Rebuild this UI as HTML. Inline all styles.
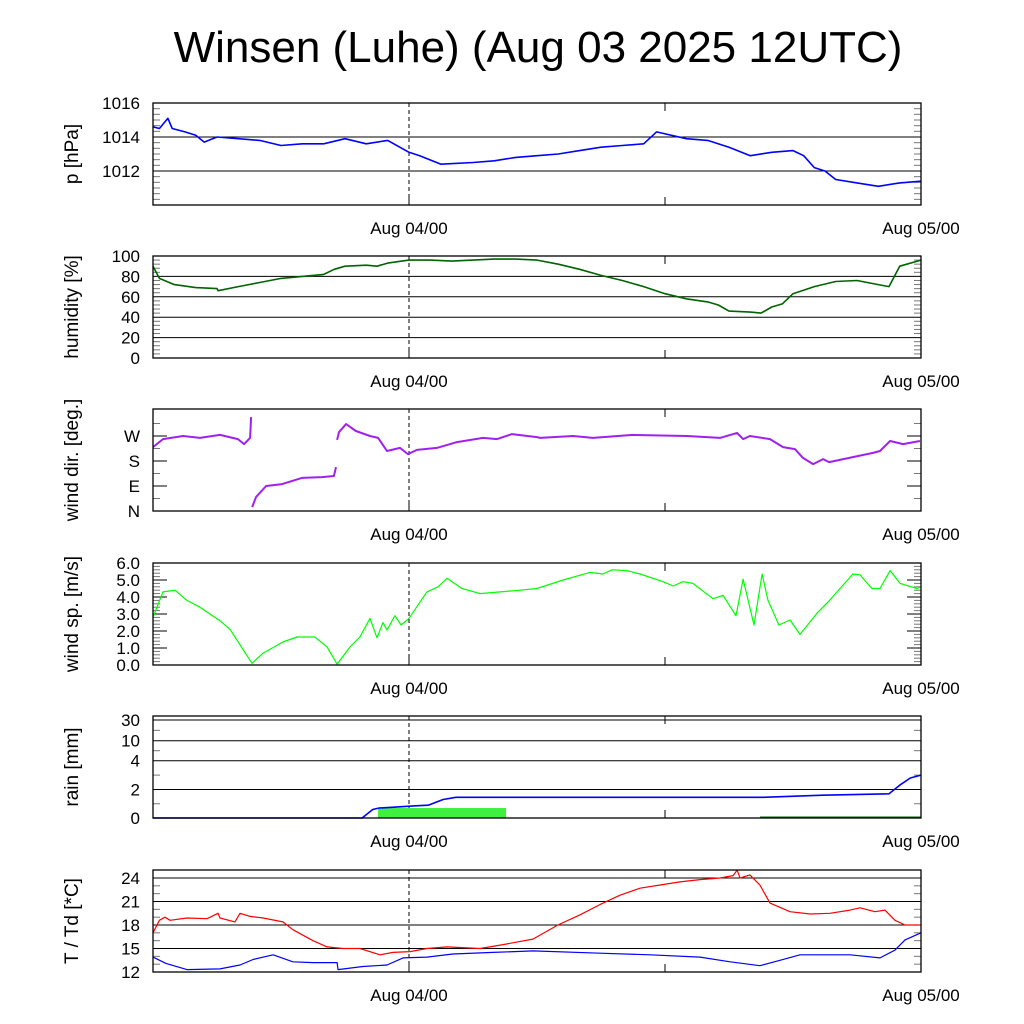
<!DOCTYPE html>
<html><head><meta charset="utf-8"><style>
body{margin:0;background:#fff}
svg{display:block;font-family:"Liberation Sans",sans-serif}
</style></head><body>
<svg id="c" width="1024" height="1024" viewBox="0 0 1024 1024">
<text x="538" y="62" font-size="44" text-anchor="middle">Winsen (Luhe) (Aug 03 2025 12UTC)</text>
</svg>
<script>
// ---- data (hours since Aug 03 12UTC) ----
const pT=[0,0.3,0.7,0.9,1.5,2,2.4,3,4,5,6,7,8,9,10,11,12,12.5,13.5,15,16,17,18,19,20,21,22,23,23.6,25,26,27,28,29,30,30.5,31,31.5,32,33,34,35,36];
const pV=[1014.6,1014.5,1015.1,1014.5,1014.3,1014.1,1013.7,1014.0,1013.9,1013.8,1013.5,1013.6,1013.6,1013.9,1013.6,1013.8,1013.1,1012.9,1012.4,1012.5,1012.6,1012.8,1012.9,1013.0,1013.2,1013.4,1013.5,1013.6,1014.3,1013.9,1013.8,1013.4,1012.9,1013.1,1013.2,1012.9,1012.2,1012.0,1011.5,1011.3,1011.1,1011.3,1011.4];
const hT=[0,0.3,1,2,3,3.05,4,5,6,7,8,8.5,9,10,10.5,11,12,13,14,15,16,17,18,19,20,21,22,23,24,25,26,26.5,27,28,28.5,29,29.5,30,31,32,33,34,34.5,35,36];
const hV=[90,78,72,69,68,66,70,74,78,80,82,87,90,91,90,93,96,96,95,96,97,97,96,92,87,81,76,70,63,58,55,52,46,45,44,50,53,63,70,75,76,72,70,90,96];
const dT=[0,0.47,1.41,2.2,3.14,3.98,4.27,4.55,4.6,4.65,4.83,5.3,6.05,6.98,7.92,8.48,8.58,8.63,8.72,9.05,9.51,10.17,10.55,10.97,11.58,11.95,12.37,13.31,14.25,15.47,16.13,16.83,18,18.14,19.69,20.62,22.5,25.03,26.58,27.38,27.66,27.98,28.92,29.53,30.09,30.47,30.94,31.41,31.69,33.75,34.08,34.55,35.16,35.95];
const dV=[230,259,270,263,274,259,241,263,338,14,50,90,97,119,122,126,158,256,284,313,288,270,263,216,227,205,220,227,248,263,259,277,266,263,270,263,274,270,263,281,259,270,259,230,223,191,169,187,176,209,216,252,241,252];
const wT=[0,0.47,1.03,1.59,2.2,3.14,3.61,4.64,5.16,6.09,6.75,7.59,8.16,8.63,9.23,9.7,10.17,10.5,10.78,10.97,11.34,11.63,12,12.84,13.36,13.78,14.48,15.33,16.27,17.2,18,19.22,20.48,21.09,21.52,22.22,22.83,23.91,24.38,24.84,25.31,26.25,26.72,27.33,27.66,28.17,28.55,28.83,29.34,29.86,30.33,31.13,31.64,32.81,33.14,33.7,34.08,34.55,35.02,35.81,36];
const wV=[2.8,4.3,4.4,3.8,3.4,2.6,2.1,0.1,0.7,1.35,1.65,1.65,1.05,0.05,1.05,1.65,2.75,1.6,2.5,2.05,2.9,2.35,2.75,4.3,4.6,5.1,4.5,4.2,4.3,4.4,4.5,5.0,5.45,5.35,5.6,5.55,5.35,4.9,4.65,4.9,4.8,3.9,4.1,2.9,5.05,2.35,5.35,3.8,2.35,2.65,1.8,3.05,3.7,5.35,5.3,4.5,4.5,5.55,4.8,4.5,4.6];
const rT=[0,9.8,10.3,10.6,11.2,12.2,12.9,13.6,14.2,28.6,31.4,34.5,35.0,35.5,36];
const rV=[0,0,0.6,0.7,0.75,0.85,0.9,1.3,1.45,1.45,1.6,1.7,2.3,2.8,3.0];
const barStart=[10.55];const barEnd=[16.55];const barV=[0.7];
const tT=[0,0.3,0.56,0.8,1.59,2.53,3.05,3.14,3.84,4.08,4.55,5.16,6.09,6.56,7.5,8.16,8.91,9.7,10.64,11.25,12.05,12.84,13.78,15.33,16.41,17.81,18.98,20.02,20.95,21.89,22.83,23.77,24.7,25.64,26.58,27.19,27.38,27.52,27.98,28.45,28.92,29.86,30.8,31.73,32.67,33.14,33.84,34.31,34.78,35.25,36];
const tV=[17.0,18.6,19.0,18.6,18.9,18.8,19.5,18.9,18.4,19.5,19.1,18.9,18.4,17.4,16.0,15.2,15.0,15.0,14.2,14.5,14.6,15.0,15.2,15.0,15.5,16.2,18.0,19.3,20.6,21.8,22.7,23.1,23.5,23.8,24.0,24.3,25.0,24.0,24.4,23.1,20.8,19.7,19.4,19.5,19.9,20.2,19.7,19.9,18.6,18.0,18.0];
const tdT=[0,0.61,1.59,3.14,4.08,4.69,5.63,6.56,7.5,8.63,8.67,9.84,10.97,11.72,12.84,14.06,15.94,17.81,20.95,23.3,25.64,27.05,28.45,29.39,30.33,32.67,34.08,34.78,35.25,36];
const tdV=[13.9,13.1,12.3,12.4,12.9,13.6,14.2,13.3,13.2,13.2,12.3,12.7,12.9,13.8,13.9,14.3,14.5,14.7,14.4,14.2,13.9,13.3,12.8,13.5,14.2,14.2,13.8,14.8,16.1,17.0];
const pTicks=[1016,1014,1012];const hTicks=[100,80,60,40,20,0];const dTicks=["W","S","E","N"];
const wTicks=["6.0","5.0","4.0","3.0","2.0","1.0","0.0"];const rTicks=[30,10,4,2,0];const tTicks=[24,21,18,15,12];
const xLabels=["Aug 04/00","Aug 05/00"];
// ---- drawing ----
const svg=document.getElementById('c');const NS='http://www.w3.org/2000/svg';
const X0=153,X1=921;
function X(h){return X0+(X1-X0)*h/36;}
function mk(tag,at,parent){const e=document.createElementNS(NS,tag);for(const k in at)e.setAttribute(k,at[k]);(parent||svg).appendChild(e);return e;}
function lin(a,b,ya,yb){return v=>ya+(v-a)*(yb-ya)/(b-a);}
const panels=[
 {name:'pressure',top:103,bot:205,title:'p [hPa]',y:lin(1016,1010,103,205),ticks:pTicks,labs:pTicks,minor:6,grid:true},
 {name:'humidity',top:256,bot:358,title:'humidity [%]',y:lin(100,0,256,358),ticks:hTicks,labs:hTicks,minor:5,grid:true},
 {name:'wind-dir',top:409,bot:511,title:'wind dir. [deg.]',y:lin(0,90,511,486),ticks:[270,180,90,0],labs:dTicks,minor:0,grid:false},
 {name:'wind-speed',top:563,bot:665,title:'wind sp. [m/s]',y:lin(0,6,665,563),ticks:[6,5,4,3,2,1,0],labs:wTicks,minor:5,grid:false},
 {name:'rain',top:716,bot:818,title:'rain [mm]',y:v=>{const t=[0,2,4,10,30],p=[818,789.5,760.7,740.7,720];for(let i=0;i<4;i++)if(v<=t[i+1])return p[i]+(v-t[i])*(p[i+1]-p[i])/(t[i+1]-t[i]);return 720;},ticks:rTicks,labs:rTicks,minor:0,grid:true},
 {name:'temperature',top:870,bot:972,title:'T / Td [*C]',y:lin(12,24,972,878),ticks:tTicks,labs:tTicks,minor:3,grid:true}
];
function line(g,T,V,y,color,w,nm,breakJump){
 let segs=[[]];
 for(let i=0;i<T.length;i++){
  if(breakJump&&i>0&&Math.abs(V[i]-V[i-1])>breakJump)segs.push([]);
  segs[segs.length-1].push(X(T[i]).toFixed(1)+','+y(V[i]).toFixed(1));
 }
 segs.forEach(s=>{const p=mk('polyline',{points:s.join(' '),fill:'none',stroke:color,'stroke-width':w,'stroke-linejoin':'round'},g);
 
 });
}
panels.forEach((P,pi)=>{
 const g=mk('g',{});
 
 
 P.ticks.forEach((t,i)=>{const yy=P.y(t);
  if(Math.abs(yy-P.bot)>1&&Math.abs(yy-P.top)>1){
   if(P.grid){const gl=mk('line',{x1:X0,x2:X1,y1:yy,y2:yy,stroke:'#000','stroke-width':1},g);
   
   }
   else{mk('line',{x1:X0,x2:X0+14,y1:yy,y2:yy,stroke:'#000'},g);mk('line',{x1:X1-14,x2:X1,y1:yy,y2:yy,stroke:'#000'},g);}
  }
  const tx=mk('text',{x:140,y:yy+6,'font-size':17,'text-anchor':'end'},g);tx.textContent=P.labs[i];
  
  
 });
 if(P.minor){const n=P.ticks.length-1;for(let i=0;i<n;i++){const a=P.y(P.ticks[i]),b=P.y(P.ticks[i+1]);for(let k=1;k<P.minor;k++){const yy=a+(b-a)*k/P.minor;mk('line',{x1:X0,x2:X0+7,y1:yy,y2:yy,stroke:'#777'},g);mk('line',{x1:X1-7,x2:X1,y1:yy,y2:yy,stroke:'#777'},g);}}
  const a=P.y(P.ticks[0]);if(a-P.top>3){const st=(P.y(P.ticks[1])-a)/P.minor;for(let yy=a-st;yy>P.top+1;yy-=st){mk('line',{x1:X0,x2:X0+7,y1:yy,y2:yy,stroke:'#777'},g);}}
  const bl=P.y(P.ticks[n]);if(P.bot-bl>3){const st=(bl-P.y(P.ticks[n-1]))/P.minor;for(let yy=bl+st;yy<P.bot-1;yy+=st){mk('line',{x1:X0,x2:X0+7,y1:yy,y2:yy,stroke:'#777'},g);mk('line',{x1:X1-7,x2:X1,y1:yy,y2:yy,stroke:'#777'},g);}}
 } else {P.ticks.forEach((t,i)=>{if(i<P.ticks.length-1){const yy=(P.y(t)+P.y(P.ticks[i+1]))/2;mk('line',{x1:X0,x2:X0+7,y1:yy,y2:yy,stroke:'#777'},g);mk('line',{x1:X1-7,x2:X1,y1:yy,y2:yy,stroke:'#777'},g);}});
  if(P.name==='wind-dir'){const yy=P.y(315);mk('line',{x1:X0,x2:X0+7,y1:yy,y2:yy,stroke:'#777'},g);mk('line',{x1:X1-7,x2:X1,y1:yy,y2:yy,stroke:'#777'},g);}}
 mk('line',{x1:409,x2:409,y1:P.top,y2:P.bot,stroke:'#000','stroke-dasharray':'4,3'},g);
 mk('line',{x1:409,x2:409,y1:P.bot-10,y2:P.bot,stroke:'#000'},g);
 mk('line',{x1:665,x2:665,y1:P.bot-8,y2:P.bot,stroke:'#000'},g);
 mk('line',{x1:665,x2:665,y1:P.top,y2:P.top+8,stroke:'#000'},g);
 const cy=(P.top+P.bot)/2;const tt=mk('text',{x:0,y:0,'font-size':19,'text-anchor':'middle',transform:`translate(78,${cy}) rotate(-90)`},g);tt.textContent=P.title;
 
 
 [409,921].forEach((xx,i)=>{const t=mk('text',{x:xx,y:P.bot+29,'font-size':17,'text-anchor':'middle'},g);t.textContent=xLabels[i];
  
  });
 if(P.name==='pressure')line(g,pT,pV,P.y,'#0000ff',1.6,'pressure-line');
 if(P.name==='humidity')line(g,hT,hV,P.y,'#006400',1.6,'humidity-line');
 if(P.name==='wind-dir')line(g,dT,dV,P.y,'#a020f0',2,'wind-direction-line',90);
 if(P.name==='wind-speed')line(g,wT,wV,P.y,'#00ff00',1.2,'wind-speed-line');
 if(P.name==='rain'){
  barV.forEach((v,i)=>{const r=mk('rect',{x:X(barStart[i]),y:P.y(v),width:X(barEnd[i])-X(barStart[i]),height:P.bot-P.y(v),fill:'#40f040'},g);
   
   });
  mk('line',{x1:760,x2:X1,y1:P.bot-0.5,y2:P.bot-0.5,stroke:'#006400','stroke-width':2},g);
  line(g,rT,rV,P.y,'#0000ff',1.6,'cumulative-rain-line');
 }
 if(P.name==='temperature'){line(g,tT,tV,P.y,'#ff0000',1.2,'temperature-line');line(g,tdT,tdV,P.y,'#0000ff',1.2,'dewpoint-line');}
 const f=mk('rect',{x:X0,y:P.top,width:X1-X0,height:P.bot-P.top,fill:'none',stroke:'#000','stroke-width':1.3},g);
 
 
});
</script>
</body></html>
